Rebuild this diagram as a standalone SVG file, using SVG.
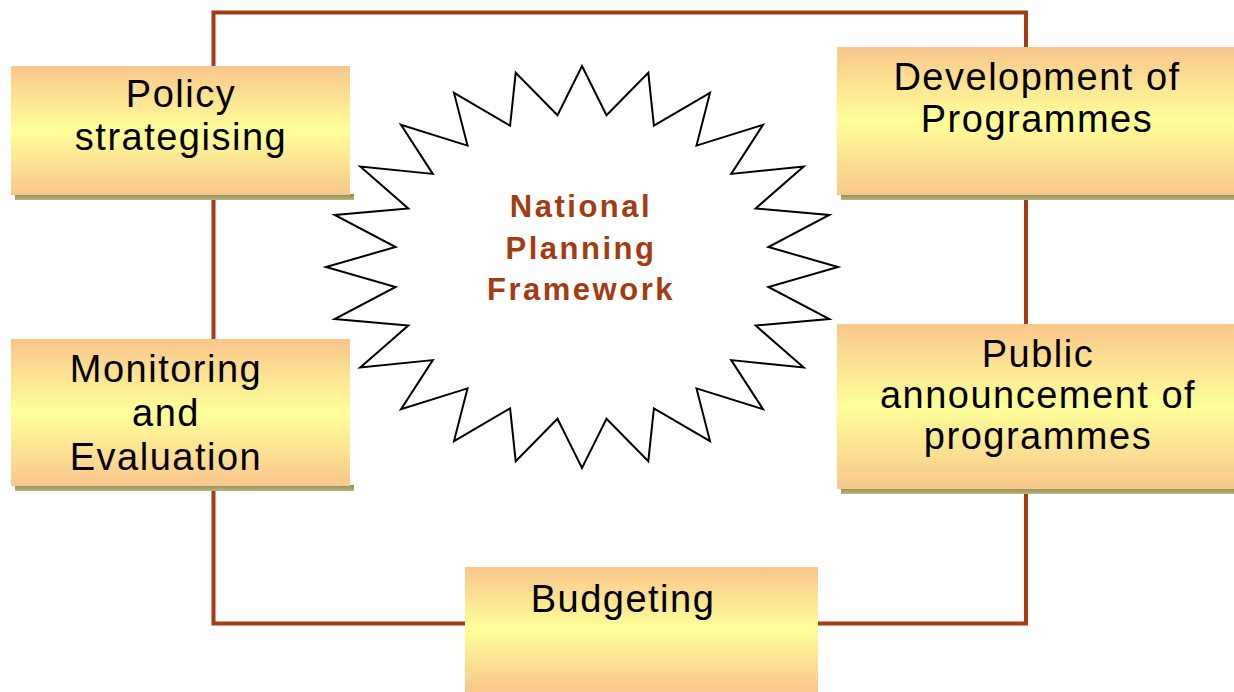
<svg xmlns="http://www.w3.org/2000/svg" width="1234" height="692" viewBox="0 0 1234 692">
<defs>
<linearGradient id="boxfill" x1="0" y1="0" x2="0" y2="1">
<stop offset="0" stop-color="#f9c68c"/>
<stop offset="0.5" stop-color="#ffff99"/>
<stop offset="1" stop-color="#f9c68c"/>
</linearGradient>
<linearGradient id="shadowfill" x1="0" y1="0" x2="0" y2="1">
<stop offset="0" stop-color="#8e8c4e"/>
<stop offset="1" stop-color="#b8b57e"/>
</linearGradient>
</defs>
<style>
.box{fill:url(#boxfill);}
.shadow{fill:url(#shadowfill);}
.lbl{font-family:"Liberation Sans",Arial,sans-serif;font-size:38px;fill:#000;text-anchor:middle;letter-spacing:1.5px;}
.core{font-family:"Liberation Sans",Arial,sans-serif;font-size:31px;font-weight:bold;fill:#a33c12;text-anchor:middle;letter-spacing:2.5px;}
.loop{fill:none;stroke:#a33c12;stroke-width:4;}
.star{fill:#fff;stroke:#000;stroke-width:2;stroke-linejoin:miter;}
</style>
<rect x="0" y="0" width="1234" height="692" fill="#fff"/>
<g id="connectors">
<rect class="loop" x="213.5" y="12.5" width="812.5" height="611"/>
</g>
<g id="framework">
<polygon class="star" points="582,66 606.5,115.3 648.3,72.8 653.9,125.6 710,92.9 696.5,145.6 763,124.9 731.2,173.9 803.7,166.5 755.7,208.4 829.3,215 768.4,247 838,267 768.4,287 829.3,319 755.7,325.6 803.7,367.5 731.2,360.1 763,409.1 696.5,388.4 710,441.1 653.9,408.4 648.3,461.2 606.5,418.7 582,468 557.5,418.7 515.7,461.2 510.1,408.4 454,441.1 467.5,388.4 401,409.1 432.8,360.1 360.3,367.5 408.3,325.6 334.7,319 395.6,287 326,267 395.6,247 334.7,215 408.3,208.4 360.3,166.5 432.8,173.9 401,124.9 467.5,145.6 454,92.9 510.1,125.6 515.7,72.8 557.5,115.3"/>
<text class="core" x="581" y="217">National</text>
<text class="core" x="581" y="259">Planning</text>
<text class="core" x="581" y="300">Framework</text>
</g>
<g id="policy">
<rect class="shadow" x="15" y="194" width="339" height="6"/>
<rect class="box" x="11" y="66" width="339" height="129"/>
<text class="lbl" x="181" y="107">Policy</text>
<text class="lbl" x="181" y="150">strategising</text>
</g>
<g id="development">
<rect class="shadow" x="841" y="194" width="393" height="6"/>
<rect class="box" x="837" y="47" width="397" height="148"/>
<text class="lbl" x="1037" y="90">Development of</text>
<text class="lbl" x="1037" y="132">Programmes</text>
</g>
<g id="monitoring">
<rect class="shadow" x="15" y="485" width="339" height="6"/>
<rect class="box" x="11" y="339" width="339" height="147"/>
<text class="lbl" x="166" y="382">Monitoring</text>
<text class="lbl" x="166" y="426">and</text>
<text class="lbl" x="166" y="470">Evaluation</text>
</g>
<g id="public">
<rect class="shadow" x="841" y="488" width="393" height="6"/>
<rect class="box" x="837" y="324" width="397" height="165"/>
<text class="lbl" x="1038" y="367">Public</text>
<text class="lbl" x="1038" y="408">announcement of</text>
<text class="lbl" x="1038" y="449">programmes</text>
</g>
<g id="budgeting">
<rect class="box" x="465" y="567" width="353" height="125"/>
<text class="lbl" x="623" y="612">Budgeting</text>
</g>
</svg>
